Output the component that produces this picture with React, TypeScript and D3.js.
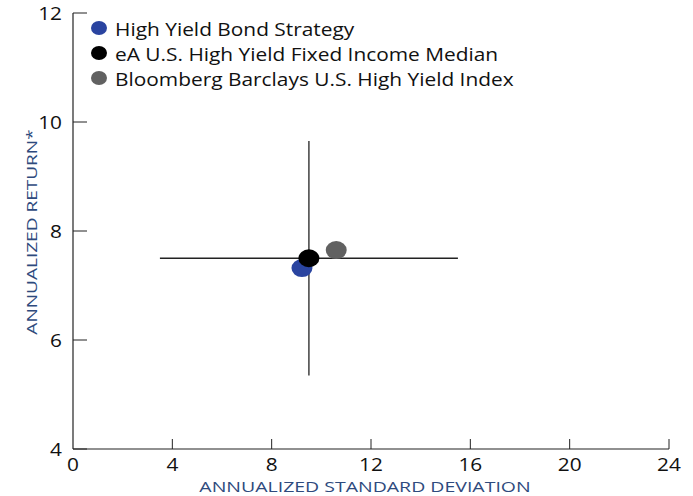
import React from "react";
import * as d3 from "d3";

const xTicks = [0, 4, 8, 12, 16, 20, 24];
const yTicks = [4, 6, 8, 10, 12];
const seriesNames = [
  "High Yield Bond Strategy",
  "eA U.S. High Yield Fixed Income Median",
  "Bloomberg Barclays U.S. High Yield Index",
];
const seriesColors = ["#2a44a0", "#000000", "#616161"];
const stdDev = [9.22, 9.5, 10.6];
const returns = [7.32, 7.5, 7.65];
// crosshair range around the median
const crossX = [3.5, 15.5];
const crossY = [5.35, 9.65];

const W = 693;
const H = 496;
const FONT = "'Open Sans', 'Noto Sans', sans-serif";
const SX = 1.19;

function T(props: {
  x: number;
  y: number;
  size: number;
  anchor?: string;
  fill?: string;
  rotate?: number;
  sx?: number;
  children: React.ReactNode;
}) {
  const { x, y, size, anchor = "start", fill = "#111", rotate = 0, sx = SX, children } = props;
  return (
    <g transform={`translate(${x},${y}) rotate(${rotate}) scale(${sx},1)`}>
      <text x={0} y={0} fontSize={size} textAnchor={anchor} fill={fill}>
        {children}
      </text>
    </g>
  );
}

export default function App() {
  const x = d3.scaleLinear().domain([0, 24]).range([73, 669]);
  const y = d3.scaleLinear().domain([4, 12]).range([449, 13]);
  const mx = stdDev[1];
  const my = returns[1];
  const drawOrder = [0, 2, 1];
  return (
    <svg
      width={W}
      height={H}
      style={{ position: "absolute", left: 0, top: 0, background: "#fff" }}
      fontFamily={FONT}
    >
      {/* axes */}
      <line x1={x(0)} x2={x(24)} y1={y(4)} y2={y(4)} stroke="#222" strokeWidth={1.2} />
      <line x1={x(0)} x2={x(0)} y1={y(4)} y2={y(12)} stroke="#222" strokeWidth={1.2} />
      {xTicks.map((t) => (
        <g key={"xt" + t}>
          {t > 0 && (
            <line x1={x(t)} x2={x(t)} y1={y(4)} y2={y(4) - 10} stroke="#222" strokeWidth={1} />
          )}
          <T x={x(t)} y={471} size={17.5} anchor="middle">
            {t}
          </T>
        </g>
      ))}
      {yTicks.map((t) => (
        <g key={"yt" + t}>
          <line x1={x(0)} x2={x(0) + 14} y1={y(t)} y2={y(t)} stroke="#222" strokeWidth={1} />
          <T x={62} y={y(t) + 7} size={17.5} anchor="end">
            {t}
          </T>
        </g>
      ))}
      <T x={365} y={492} size={15} anchor="middle" fill="#2e4a7d" sx={1.3}>
        ANNUALIZED STANDARD DEVIATION
      </T>
      <T x={37} y={232} size={15} anchor="middle" fill="#2e4a7d" rotate={-90} sx={1.27}>
        ANNUALIZED RETURN*
      </T>
      {/* crosshair */}
      <line x1={x(crossX[0])} x2={x(crossX[1])} y1={y(my)} y2={y(my)} stroke="#222" strokeWidth={1.3} />
      <line x1={x(mx)} x2={x(mx)} y1={y(crossY[0])} y2={y(crossY[1])} stroke="#222" strokeWidth={1.3} />
      {/* points */}
      {drawOrder.map((i) => (
        <ellipse
          key={"p" + i}
          cx={x(stdDev[i])}
          cy={y(returns[i])}
          rx={10.5}
          ry={9}
          fill={seriesColors[i]}
        />
      ))}
      {/* legend */}
      {seriesNames.map((n, i) => (
        <g key={"lg" + i} transform={`translate(99,${28 + i * 25})`}>
          <ellipse cx={0} cy={0} rx={8} ry={7} fill={seriesColors[i]} />
          <T x={16} y={8} size={18} sx={1.16}>
            {n}
          </T>
        </g>
      ))}
    </svg>
  );
}
